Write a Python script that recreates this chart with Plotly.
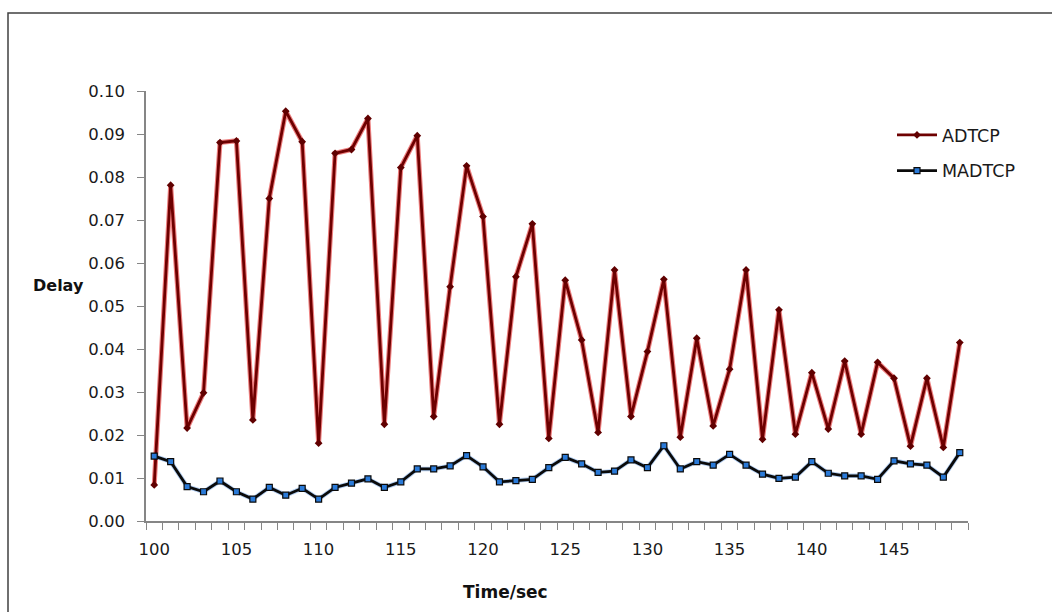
import plotly.graph_objects as go

time_sec = list(range(100, 150))
adtcp = [0.0084, 0.0781, 0.0216, 0.0298, 0.0880, 0.0884, 0.0235, 0.0750, 0.0953, 0.0882,
         0.0181, 0.0855, 0.0864, 0.0936, 0.0225, 0.0822, 0.0896, 0.0243, 0.0545, 0.0826,
         0.0708, 0.0225, 0.0568, 0.0691, 0.0192, 0.0560, 0.0421, 0.0206, 0.0584, 0.0243,
         0.0394, 0.0562, 0.0195, 0.0425, 0.0221, 0.0353, 0.0584, 0.0190, 0.0491, 0.0202,
         0.0345, 0.0214, 0.0372, 0.0202, 0.0369, 0.0332, 0.0174, 0.0332, 0.0171, 0.0415]
madtcp = [0.0151, 0.0138, 0.0080, 0.0068, 0.0093, 0.0068, 0.0051, 0.0078, 0.0060, 0.0076,
          0.0051, 0.0078, 0.0088, 0.0098, 0.0078, 0.0091, 0.0121, 0.0121, 0.0128, 0.0152,
          0.0126, 0.0091, 0.0094, 0.0097, 0.0124, 0.0148, 0.0133, 0.0113, 0.0116, 0.0142,
          0.0124, 0.0175, 0.0121, 0.0138, 0.0130, 0.0155, 0.0130, 0.0109, 0.0099, 0.0102,
          0.0138, 0.0111, 0.0105, 0.0105, 0.0097, 0.0140, 0.0133, 0.0130, 0.0102, 0.0159]
y_ticks = [i / 100 for i in range(0, 11)]
x_ticks = list(range(100, 150, 5))

FONT = "DejaVu Sans"
TXT = "#1a1a1a"

fig = go.Figure()
# soft edge layers
fig.add_trace(go.Scatter(x=time_sec, y=adtcp, mode="lines", showlegend=False, hoverinfo="skip",
                         line=dict(color="rgba(220,0,0,0.5)", width=5)))
fig.add_trace(go.Scatter(x=time_sec, y=madtcp, mode="lines", showlegend=False, hoverinfo="skip",
                         line=dict(color="rgba(60,130,220,0.4)", width=4.5)))
fig.add_trace(go.Scatter(x=time_sec, y=adtcp, mode="lines+markers", name="ADTCP",
                         legendgroup="a",
                         line=dict(color="#6e0000", width=2.8),
                         marker=dict(symbol="diamond", size=6, color="#600000")))
fig.add_trace(go.Scatter(x=time_sec, y=madtcp, mode="lines+markers", name="MADTCP",
                         legendgroup="b",
                         line=dict(color="#0a0a0a", width=2.8),
                         marker=dict(symbol="square", size=6, color="#2a7ad8",
                                     line=dict(color="#0a0a0a", width=1.2))))

L, R, T, B = 146, 84, 91, 91
W, H = 1052, 612
pw, ph = W - L - R, H - T - B

def px(x):
    return (x - L) / pw

def py(y):
    return (H - B - y) / ph

fig.update_layout(
    width=W, height=H,
    margin=dict(l=L, r=R, t=T, b=B),
    paper_bgcolor="white", plot_bgcolor="white",
    font=dict(family=FONT, size=16.5, color=TXT),
    showlegend=True,
    legend=dict(x=px(892), y=py(117), xanchor="left", yanchor="top",
                traceorder="grouped", tracegroupgap=10,
                font=dict(family=FONT, size=17.5, color=TXT),
                bgcolor="rgba(0,0,0,0)", itemwidth=40),
    xaxis=dict(range=[99.5, 149.5], tickvals=x_ticks, ticktext=[str(v) for v in x_ticks],
               ticks="", showgrid=False, zeroline=False, ticklabelstandoff=12,
               showline=True, linecolor="#868686", linewidth=1.5,
               tickfont=dict(family=FONT, size=16.5, color=TXT),
               minor=dict(tick0=99.5, dtick=1, ticks="outside", ticklen=7,
                          tickcolor="#868686", tickwidth=1.2, showgrid=False)),
    yaxis=dict(range=[0, 0.1], tickvals=y_ticks, tickformat=".2f",
               ticks="outside", ticklen=7, tickcolor="#868686", tickwidth=1.2,
               showgrid=False, zeroline=False, ticklabelstandoff=9,
               showline=True, linecolor="#868686", linewidth=1.5,
               tickfont=dict(family=FONT, size=16.5, color=TXT)),
    annotations=[
        dict(text="<b>Delay</b>", x=px(58), y=py(285), xref="paper", yref="paper",
             xanchor="center", yanchor="middle",
             showarrow=False, font=dict(family=FONT, size=16, color="#111111")),
        dict(text="<b>Time/sec</b>", x=px(505), y=py(592), xref="paper", yref="paper",
             xanchor="center", yanchor="middle",
             showarrow=False, font=dict(family=FONT, size=17, color="#111111")),
    ],
    shapes=[
        dict(type="rect", xref="paper", yref="paper",
             x0=px(8), x1=px(1100), y0=py(700), y1=py(13),
             line=dict(color="#404040", width=1.5), fillcolor="rgba(0,0,0,0)", layer="below"),
    ],
)

fig.write_html("out.html")
